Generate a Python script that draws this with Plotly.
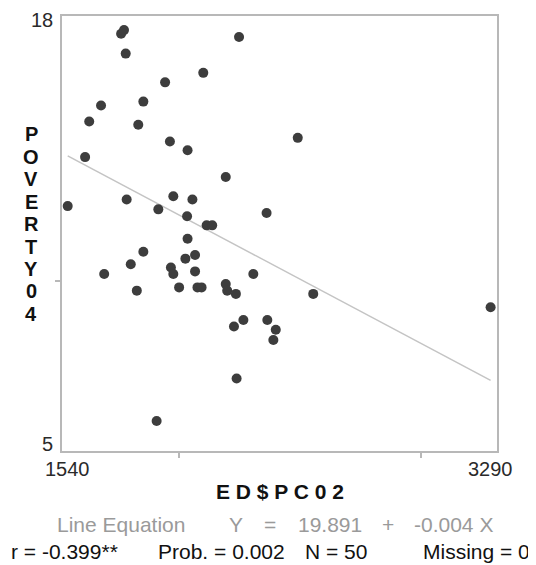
import plotly.graph_objects as go

# ---- data ----
ed_spc02 = [1761, 1773, 1780, 2249, 2101, 1943, 1678, 1853, 1629, 1832,
            2492, 1963, 2036, 1612, 2194, 1540, 1784, 1977, 2056, 1915,
            2034, 2363, 2115, 2138, 2036, 1853, 2067, 2027, 1801, 1967,
            1977, 2067, 1691, 2308, 2194, 2200, 2236, 2001, 2077, 2094,
            1826, 2556, 3290, 2267, 2366, 2228, 2401, 2391, 2239, 1908]
poverty04 = [17.58, 17.69, 16.97, 17.48, 16.38, 16.09, 15.38, 15.50, 14.89, 14.79,
             14.39, 14.28, 14.01, 13.80, 13.19, 12.30, 12.50, 12.60, 12.50, 12.20,
             11.99, 12.09, 11.71, 11.71, 11.30, 10.90, 10.80, 10.69, 10.52, 10.42,
             10.22, 10.30, 10.22, 10.22, 9.91, 9.71, 9.61, 9.81, 9.81, 9.81,
             9.71, 9.61, 9.20, 8.81, 8.81, 8.61, 8.51, 8.20, 7.02, 5.72]

intercept = 19.891
slope = -0.00393
x_ticks = [2000, 3000]
y_ticks = [10]
x_end_labels = [1540, 3290]
y_end_labels = [18, 5]
y_title = "POVERTY04"
x_title = "E D $ P C 0 2"
eq_parts = ["Line Equation", "Y", "=", "19.891", "+", "-0.004 X"]
stat_parts = ["r = -0.399**", "Prob. = 0.002", "N = 50", "Missing = 0"]

# ---- layout geometry (screen coords; page body adds an 8px offset) ----
OFF = 8
W, H = 536 - OFF, 565 - OFF
BOX_L, BOX_R, BOX_T, BOX_B = 62, 497, 14, 451          # plot box on screen
L, R, T, B = BOX_L - OFF, W - (BOX_R - OFF), BOX_T - OFF, H - (BOX_B - OFF)
PW, PH = W - L - R, H - T - B

def px(sx):
    return (sx - OFF - L) / PW

def py(sy):
    return 1 - (sy - OFF - T) / PH

FONT = "Liberation Sans, Arial, sans-serif"

xmin, xmax = min(ed_spc02), max(ed_spc02)
line_x = [xmin, xmax]
line_y = [intercept + slope * v for v in line_x]

fig = go.Figure()
fig.add_trace(go.Scatter(x=line_x, y=line_y, mode="lines",
                         line=dict(color="#c4c4c4", width=1.5),
                         hoverinfo="skip", showlegend=False))
fig.add_trace(go.Scatter(x=ed_spc02, y=poverty04, mode="markers",
                         marker=dict(size=10, color="#3d3d3d", line=dict(width=0)),
                         showlegend=False))

ann = []
for v in x_end_labels:
    ann.append(dict(x=v, xref="x", y=py(469), yref="paper", text=str(v),
                    showarrow=False, xanchor="center", yanchor="middle",
                    font=dict(family=FONT, size=20, color="#2a2a2a")))
for v in y_end_labels:
    ann.append(dict(x=px(55), xref="paper", y=v, yref="y", text=str(v),
                    showarrow=False, xanchor="right", yanchor="middle",
                    font=dict(family=FONT, size=20, color="#2a2a2a")))
y0, y1 = 132.7, 313.3
n = len(y_title)
for i, ch in enumerate(y_title):
    yy = y0 + (y1 - y0) * i / (n - 1)
    ann.append(dict(x=px(31), xref="paper", y=py(yy), yref="paper", text="<b>%s</b>" % ch,
                    showarrow=False, xanchor="center", yanchor="middle",
                    font=dict(family=FONT, size=20, color="#111111")))
ann.append(dict(x=px(279.5), xref="paper", y=py(492), yref="paper", text="<b>%s</b>" % x_title,
                showarrow=False, xanchor="center", yanchor="middle",
                font=dict(family=FONT, size=21, color="#111111")))
eq_left = [54.7, 227, 261.5, 295.7, 379.5, 412]
for t, xl in zip(eq_parts, eq_left):
    ann.append(dict(x=px(xl), xref="paper", y=py(525), yref="paper", text=t,
                    showarrow=False, xanchor="left", yanchor="middle",
                    font=dict(family=FONT, size=21, color="#9a9a9a")))
st_left = [9, 156, 302.6, 420.5]
for t, xl in zip(stat_parts, st_left):
    ann.append(dict(x=px(xl), xref="paper", y=py(551.5), yref="paper", text=t,
                    showarrow=False, xanchor="left", yanchor="middle",
                    font=dict(family=FONT, size=21, color="#111111")))

x_range = [1540 - (67.7 - BOX_L) * 4.138, 1540 + (BOX_R - 67.7) * 4.138]
y_range = [18 - (BOX_B - 18) / 32.8, 18 + (18 - BOX_T) / 32.8]

fig.update_layout(
    width=W, height=H,
    margin=dict(l=L, r=R, t=T, b=B, pad=0),
    paper_bgcolor="white", plot_bgcolor="white",
    showlegend=False,
    annotations=ann,
    xaxis=dict(range=x_range, showgrid=False, zeroline=False,
               showline=True, mirror=True, linecolor="#b8b8b8", linewidth=2,
               tickmode="array", tickvals=x_ticks, ticktext=["", ""],
               ticks="outside", ticklen=5, tickwidth=1.5, tickcolor="#b8b8b8"),
    yaxis=dict(range=y_range, showgrid=False, zeroline=False,
               showline=True, mirror=True, linecolor="#b8b8b8", linewidth=2,
               tickmode="array", tickvals=y_ticks, ticktext=[""],
               ticks="outside", ticklen=5, tickwidth=1.5, tickcolor="#b8b8b8"),
)

fig.write_html("out.html")
